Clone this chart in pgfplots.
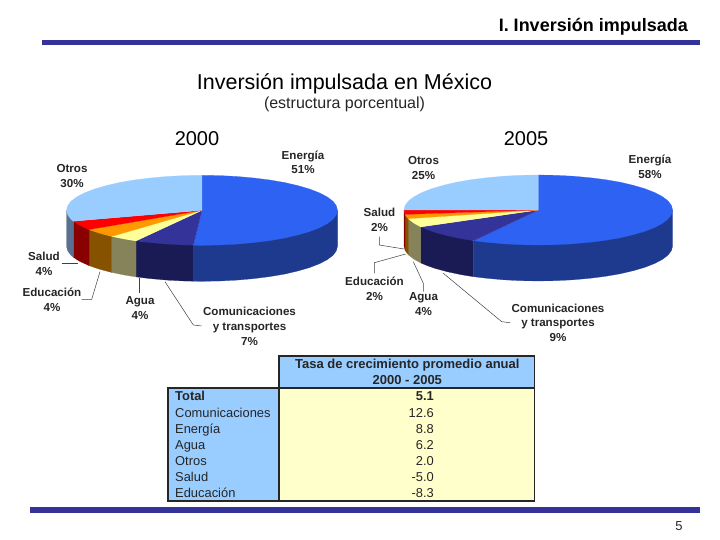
\documentclass[border=0pt]{standalone}
\usepackage{pgfplots}
\pgfplotsset{compat=1.18}
\usepackage{fontspec}
\setmainfont{Liberation Sans}
\definecolor{barblue}{HTML}{333399}
\definecolor{eTop}{HTML}{2E62F2}
\definecolor{eSide}{HTML}{1E3A8E}
\definecolor{cTop}{HTML}{333399}
\definecolor{cSide}{HTML}{1A1A55}
\definecolor{aTop}{HTML}{FFFF99}
\definecolor{aSide}{HTML}{86825A}
\definecolor{dTop}{HTML}{FF9900}
\definecolor{dSide}{HTML}{865200}
\definecolor{sTop}{HTML}{FF0000}
\definecolor{sSide}{HTML}{880000}
\definecolor{oTop}{HTML}{99CCFF}
\definecolor{oSide}{HTML}{5A7090}
\definecolor{cellblue}{HTML}{99CCFF}
\definecolor{cellyellow}{HTML}{FFFFCC}
\newcommand{\fs}[1]{\fontsize{#1}{#1}\selectfont}
\pgfplotsset{wedge/.style={fill=#1,draw=#1,line width=0.2pt,no markers},
  leader/.style={draw=black!75,line width=0.5pt,no markers},
  rule/.style={draw=black!85,line width=1.6pt,no markers}}
\tikzset{txt/.style={inner sep=0pt,text=black!85,anchor=base},
  tl/.style={txt,anchor=base west,yshift=-4.7pt},
  tr/.style={txt,anchor=base east,yshift=-4.7pt},
  tc/.style={txt,yshift=-4.7pt}}
\newcommand{\lab}[3]{\node[txt,yshift=-4.2pt,font=\bfseries\fs{11.6}] at (axis cs:#1,#2) {#3};}
\begin{document}
\begin{tikzpicture}
\begin{axis}[width=720pt,height=540pt,scale only axis,hide axis,clip=false,
  xmin=0,xmax=720,ymin=0,ymax=540,y dir=reverse]
\addplot[fill=white,draw=none,no markers] coordinates {(0,0)(720,0)(720,540)(0,540)};
% rules
\addplot[fill=barblue,draw=none,no markers] coordinates {(42,40)(700,40)(700,45.5)(42,45.5)};
\addplot[fill=barblue,draw=none,no markers] coordinates {(30,507)(700,507)(700,513)(30,513)};
% ---------- pie 2000: sides
\addplot[wedge=eSide] coordinates {(337.5,210.3)(337.5,246.3)(336.3,250.9)(332.9,255.4)(327.2,259.7)(319.3,263.8)(309.5,267.6)(297.8,271.0)(284.5,274.1)(269.8,276.6)(253.9,278.6)(237.1,280.1)(219.7,281.0)(202,281.3)(193.3,281.2)(193.3,245.2)};
\addplot[wedge=cSide] coordinates {(193.3,245.2)(193.3,281.2)(184.3,281.0)(166.9,280.1)(150.1,278.6)(136,276.9)(136,240.9)};
\addplot[wedge=aSide] coordinates {(136,240.9)(136,276.9)(124.3,275.0)(111.7,272.4)(111.7,236.4)};
\addplot[wedge=dSide] coordinates {(111.7,236.4)(111.7,272.4)(106.2,271)(98.2,268.8)(89,265.6)(89,229.6)};
\addplot[wedge=sSide] coordinates {(89,229.6)(89,265.6)(79.2,261.1)(73.3,257.2)(73.3,221.2)};
\addplot[wedge=oSide] coordinates {(73.3,221.2)(73.3,257.2)(71.1,255.4)(67.7,250.9)(66.5,246.3)(66.5,210.3)};
% tops
\addplot[wedge=eTop] coordinates {(202,210.3)(202,175.3)(219.7,175.6)(237.1,176.5)(253.9,178.0)(269.8,180)(284.5,182.5)(297.8,185.6)(309.5,189.0)(319.3,192.8)(327.2,196.9)(332.9,201.2)(336.3,205.7)(337.5,210.3)(336.3,214.9)(332.9,219.4)(327.2,223.7)(319.3,227.8)(309.5,231.6)(297.8,235.0)(284.5,238.1)(269.8,240.6)(253.9,242.6)(237.1,244.1)(219.7,245.0)(202,245.3)(193.3,245.2)};
\addplot[wedge=cTop] coordinates {(202,210.3)(193.3,245.2)(184.3,245.0)(166.9,244.1)(150.1,242.6)(136,240.9)};
\addplot[wedge=aTop] coordinates {(202,210.3)(136,240.9)(124.3,239.0)(111.7,236.4)};
\addplot[wedge=dTop] coordinates {(202,210.3)(111.7,236.4)(106.2,235.0)(98.2,232.8)(89,229.6)};
\addplot[wedge=sTop] coordinates {(202,210.3)(89,229.6)(79.2,225.1)(73.3,221.2)};
\addplot[wedge=oTop] coordinates {(202,210.3)(73.3,221.2)(71.1,219.4)(67.7,214.9)(66.5,210.3)(67.7,205.7)(71.1,201.2)(76.8,196.9)(84.7,192.8)(94.5,189.0)(106.2,185.6)(119.5,182.5)(134.2,180)(150.1,178.0)(166.9,176.5)(184.3,175.6)(202,175.3)};
% ---------- pie 2005: sides
\addplot[wedge=eSide] coordinates {(672.6,210)(672.6,246)(671.4,250.6)(668,255.1)(662.4,259.4)(654.6,263.5)(644.9,267.3)(633.3,270.7)(620.1,273.8)(605.5,276.3)(589.7,278.3)(573.1,279.8)(555.8,280.7)(538.3,281)(520.8,280.7)(503.5,279.8)(486.9,278.3)(473.6,276.7)(473.6,240.7)};
\addplot[wedge=cSide] coordinates {(473.6,240.7)(473.6,276.7)(461.3,274.7)(447.6,271.8)(435.4,268.5)(427,265.6)(420.7,262.9)(420.7,226.9)};
\addplot[wedge=aSide] coordinates {(420.7,226.9)(420.7,262.9)(413.8,259.1)(408.2,254.7)(408.2,218.7)};
\addplot[wedge=dSide] coordinates {(408.2,218.7)(408.2,254.7)(405.1,250.4)(405.1,214.4)};
\addplot[wedge=sSide] coordinates {(405.1,214.4)(405.1,250.4)(404,246)(404,210)};
% tops
\addplot[wedge=eTop] coordinates {(538.3,210)(538.3,175)(555.8,175.3)(573.1,176.2)(589.7,177.7)(605.5,179.7)(620.1,182.2)(633.3,185.3)(644.9,188.7)(654.6,192.5)(662.4,196.6)(668,200.9)(671.4,205.4)(672.6,210)(671.4,214.6)(668,219.1)(662.4,223.4)(654.6,227.5)(644.9,231.3)(633.3,234.7)(620.1,237.8)(605.5,240.3)(589.7,242.3)(573.1,243.8)(555.8,244.7)(538.3,245)(520.8,244.7)(503.5,243.8)(486.9,242.3)(473.6,240.7)};
\addplot[wedge=cTop] coordinates {(538.3,210)(473.6,240.7)(461.3,238.7)(447.6,235.8)(435.4,232.5)(427,229.6)(420.7,226.9)};
\addplot[wedge=aTop] coordinates {(538.3,210)(420.7,226.9)(413.8,223.1)(408.2,218.7)};
\addplot[wedge=dTop] coordinates {(538.3,210)(408.2,218.7)(405.1,214.4)};
\addplot[wedge=sTop] coordinates {(538.3,210)(405.1,214.4)(404,210)};
\addplot[wedge=oTop] coordinates {(538.3,210)(404,210)(405.2,205.4)(408.6,200.9)(414.2,196.6)(422,192.5)(431.7,188.7)(443.3,185.3)(456.5,182.2)(471.1,179.7)(486.9,177.7)(503.5,176.2)(520.8,175.3)(538.3,175)};
% ---------- leaders
\addplot[leader] coordinates {(61.7,263.3)(78.3,263.3)};
\addplot[leader] coordinates {(81.7,299.3)(91.7,299.3)(100,271.7)};
\addplot[leader] coordinates {(139.3,293.3)(139.3,278.3)};
\addplot[leader] coordinates {(165,281.7)(193.3,325)(201.7,326)};
\addplot[leader] coordinates {(379.3,236.7)(379.3,245)(404,249)};
\addplot[leader] coordinates {(374.3,273.3)(374.3,262.7)(405.7,254)};
\addplot[leader] coordinates {(423.3,291.7)(423.3,283.3)(413.3,261.7)};
\addplot[leader] coordinates {(443.3,273.3)(501.7,321.7)(510,322.7)};
% ---------- table
\addplot[fill=cellblue,draw=none,no markers] coordinates {(279,356)(534.5,356)(534.5,388)(279,388)};
\addplot[fill=cellblue,draw=none,no markers] coordinates {(168,388)(279,388)(279,501)(168,501)};
\addplot[fill=cellyellow,draw=none,no markers] coordinates {(279,388)(534.5,388)(534.5,501)(279,501)};
\addplot[rule] coordinates {(279,388)(279,356)(534.5,356)(534.5,501)(168,501)(168,388)(534.5,388)};
\addplot[rule] coordinates {(279,388)(279,501)};
% ---------- text
\node[txt,anchor=base east,font=\bfseries\fs{18},text=black] at (axis cs:688,31.5) {I. Inversión impulsada};
\node[txt,font=\fs{21.5},text=black] at (axis cs:344.5,89.7) {Inversión impulsada en México};
\node[txt,font=\fs{16}] at (axis cs:344.5,109) {(estructura porcentual)};
\node[txt,font=\fs{20},text=black] at (axis cs:197,145.2) {2000};
\node[txt,font=\fs{20},text=black] at (axis cs:526,145.2) {2005};
\node[txt,font=\fs{13}] at (axis cs:679,530.7) {5};
\lab{303}{155}{Energía}\lab{303}{169.5}{51\%}
\lab{72}{168.5}{Otros}\lab{72}{183}{30\%}
\lab{44}{256.5}{Salud}\lab{44}{271}{4\%}
\lab{52}{292.5}{Educación}\lab{52}{307}{4\%}
\lab{140}{300}{Agua}\lab{140}{315}{4\%}
\lab{249.5}{311.5}{Comunicaciones}\lab{249.5}{326}{y transportes}\lab{249.5}{341}{7\%}
\lab{650}{159.5}{Energía}\lab{650}{174}{58\%}
\lab{423.5}{160.5}{Otros}\lab{423.5}{175}{25\%}
\lab{379.5}{212.5}{Salud}\lab{379.5}{227}{2\%}
\lab{374.5}{281.5}{Educación}\lab{374.5}{296}{2\%}
\lab{423.5}{296.5}{Agua}\lab{423.5}{311}{4\%}
\lab{558}{308}{Comunicaciones}\lab{558}{322.5}{y transportes}\lab{558}{337}{9\%}
\node[tc,font=\bfseries\fs{13}] at (axis cs:407.3,363.5) {Tasa de crecimiento promedio anual};
\node[tc,font=\bfseries\fs{13}] at (axis cs:407.3,379.5) {2000 - 2005};
\node[tl,font=\bfseries\fs{12.9}] at (axis cs:175,396) {Total};
\node[tl,font=\fs{12.9}] at (axis cs:175,412.3) {Comunicaciones};
\node[tl,font=\fs{12.9}] at (axis cs:175,428.3) {Energía};
\node[tl,font=\fs{12.9}] at (axis cs:175,444.5) {Agua};
\node[tl,font=\fs{12.9}] at (axis cs:175,460.7) {Otros};
\node[tl,font=\fs{12.9}] at (axis cs:175,476.7) {Salud};
\node[tl,font=\fs{12.9}] at (axis cs:175,492.7) {Educación};
\node[tr,font=\bfseries\fs{12.9}] at (axis cs:434,396) {5.1};
\node[tr,font=\fs{12.9}] at (axis cs:434,412.3) {12.6};
\node[tr,font=\fs{12.9}] at (axis cs:434,428.3) {8.8};
\node[tr,font=\fs{12.9}] at (axis cs:434,444.5) {6.2};
\node[tr,font=\fs{12.9}] at (axis cs:434,460.7) {2.0};
\node[tr,font=\fs{12.9}] at (axis cs:434,476.7) {-5.0};
\node[tr,font=\fs{12.9}] at (axis cs:434,492.7) {-8.3};
\end{axis}
\end{tikzpicture}
\end{document}
